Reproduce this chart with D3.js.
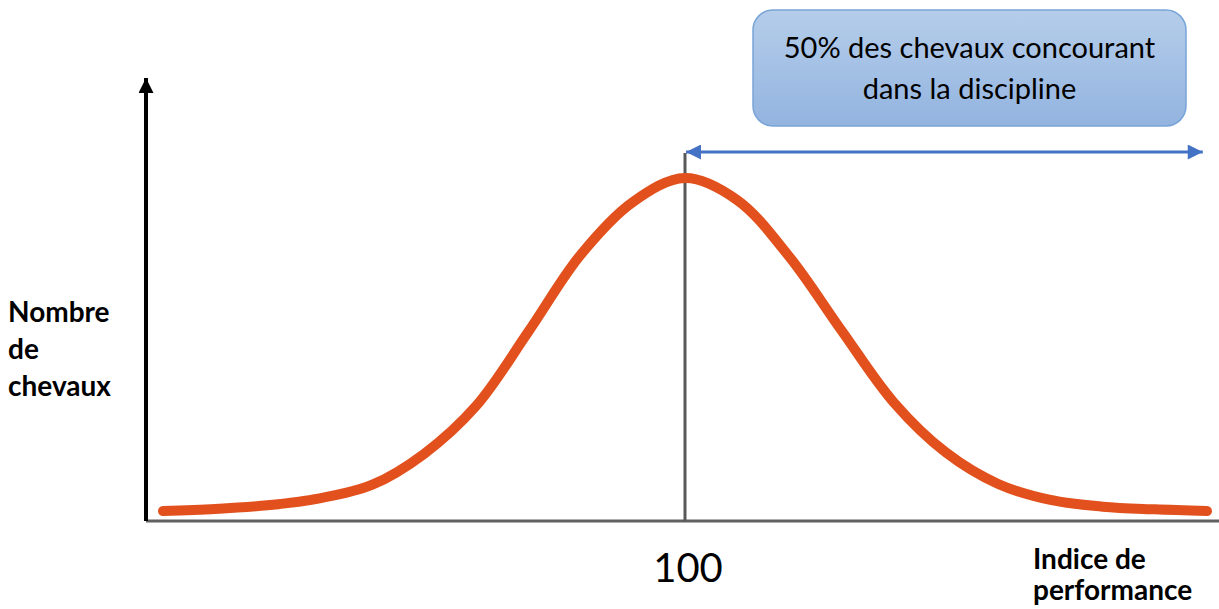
<!DOCTYPE html>
<html>
<head>
<meta charset="utf-8">
<script src="https://cdn.jsdelivr.net/npm/d3@7"></script>
<style>
  body { margin: 0; background: #fff; }
  svg { display: block; }
</style>
</head>
<body>
<svg id="chart" width="1219" height="609"></svg>
<script>
// indice de performance (0..200, moyenne 100) et nombre de chevaux (en % du pic)
const indices = [0, 10, 20, 30, 40, 50, 60, 70, 80, 90, 100, 110, 120, 130, 140, 150, 160, 170, 180, 190, 200];
const chevaux = [0.3, 0.9, 2.0, 4.1, 8.1, 17.4, 31.8, 54.0, 77.0, 92.8, 100, 93.4, 76.4, 54.3, 32.8, 17.8, 8.4, 3.6, 1.6, 0.8, 0.3];
const tickLabels = ["100"];
const tickValues = [100];
const arrowRange = [100, 199];
const boxLines = ["50% des chevaux concourant", "dans la discipline"];
const yLabel = ["Nombre", "de", "chevaux"];
const xLabel = ["Indice de", "performance"];

const svg = d3.select("#chart");

const x = d3.scaleLinear().domain([0, 200]).range([163, 1207]);
const y = d3.scaleLinear().domain([0, 100]).range([512, 178]);

const axisY = 521, axisX = 146;

// fleches
const defs = svg.append("defs");
defs.append("marker")
  .attr("id", "blackHead")
  .attr("viewBox", "0 0 10 10")
  .attr("refX", 10).attr("refY", 5)
  .attr("markerUnits", "userSpaceOnUse")
  .attr("markerWidth", 15).attr("markerHeight", 15)
  .attr("orient", "auto")
  .append("path").attr("d", "M0,0 L10,5 L0,10 Z").attr("fill", "#000");
defs.append("marker")
  .attr("id", "blueHead")
  .attr("viewBox", "0 0 10 10")
  .attr("refX", 10).attr("refY", 5)
  .attr("markerUnits", "userSpaceOnUse")
  .attr("markerWidth", 17).attr("markerHeight", 15)
  .attr("orient", "auto-start-reverse")
  .append("path").attr("d", "M0,0 L10,5 L0,10 Z").attr("fill", "#4472C4");

const grad = defs.append("linearGradient")
  .attr("id", "boxFill")
  .attr("x1", 0).attr("y1", 0).attr("x2", 0).attr("y2", 1);
grad.append("stop").attr("offset", "0%").attr("stop-color", "#B5CDEA");
grad.append("stop").attr("offset", "100%").attr("stop-color", "#93B4E0");

// axe horizontal
svg.append("line")
  .attr("x1", axisX).attr("x2", 1219)
  .attr("y1", axisY).attr("y2", axisY)
  .attr("stroke", "#616161").attr("stroke-width", 3);

// axe vertical
svg.append("line")
  .attr("x1", axisX).attr("x2", axisX)
  .attr("y1", axisY).attr("y2", 78)
  .attr("stroke", "#000").attr("stroke-width", 4)
  .attr("marker-end", "url(#blackHead)");

// ligne de la moyenne
svg.selectAll(".moyenne")
  .data(tickValues)
  .enter().append("line")
  .attr("class", "moyenne")
  .attr("x1", d => x(d)).attr("x2", d => x(d))
  .attr("y1", axisY).attr("y2", 153)
  .attr("stroke", "#595959").attr("stroke-width", 3);

// courbe
const line = d3.line()
  .x((d, i) => x(indices[i]))
  .y(d => y(d))
  .curve(d3.curveCatmullRom.alpha(0.5));

svg.append("path")
  .datum(chevaux)
  .attr("d", line)
  .attr("fill", "none")
  .attr("stroke", "#E2511D")
  .attr("stroke-width", 10)
  .attr("stroke-linecap", "round")
  .attr("stroke-linejoin", "round");

// fleche bleue
svg.append("line")
  .attr("x1", x(arrowRange[0]) + 1).attr("x2", x(arrowRange[1]) + 1)
  .attr("y1", 152).attr("y2", 152)
  .attr("stroke", "#4472C4").attr("stroke-width", 3)
  .attr("marker-start", "url(#blueHead)")
  .attr("marker-end", "url(#blueHead)");

// boite
svg.append("rect")
  .attr("x", 753).attr("y", 10)
  .attr("width", 433).attr("height", 116)
  .attr("rx", 20).attr("ry", 20)
  .attr("fill", "url(#boxFill)")
  .attr("stroke", "#79A4D8").attr("stroke-width", 1.5);

svg.selectAll(".boxText")
  .data(boxLines)
  .enter().append("text")
  .attr("class", "boxText")
  .attr("x", 969.5)
  .attr("y", (d, i) => 58 + i * 41)
  .attr("text-anchor", "middle")
  .style("font-family", "Lato, 'Open Sans', sans-serif")
  .style("font-size", "29px")
  .style("fill", "#000")
  .text(d => d);

// etiquette 100
svg.selectAll(".tick")
  .data(tickLabels)
  .enter().append("text")
  .attr("class", "tick")
  .attr("x", (d, i) => x(tickValues[i]) + 3)
  .attr("y", 582)
  .attr("text-anchor", "middle")
  .style("font-family", "Lato, 'Open Sans', sans-serif")
  .style("font-size", "40px")
  .style("fill", "#000")
  .text(d => d);

// titres des axes
svg.selectAll(".yLabel")
  .data(yLabel)
  .enter().append("text")
  .attr("class", "yLabel")
  .attr("x", 8)
  .attr("y", (d, i) => 322 + i * 37)
  .style("font-family", "Lato, 'Open Sans', sans-serif")
  .style("font-weight", "bold")
  .style("font-size", "28px")
  .style("fill", "#000")
  .text(d => d);

svg.selectAll(".xLabel")
  .data(xLabel)
  .enter().append("text")
  .attr("class", "xLabel")
  .attr("x", 1033)
  .attr("y", (d, i) => 569 + i * 31)
  .style("font-family", "Lato, 'Open Sans', sans-serif")
  .style("font-weight", "bold")
  .style("font-size", "28px")
  .style("fill", "#000")
  .text(d => d);
</script>
</body>
</html>
